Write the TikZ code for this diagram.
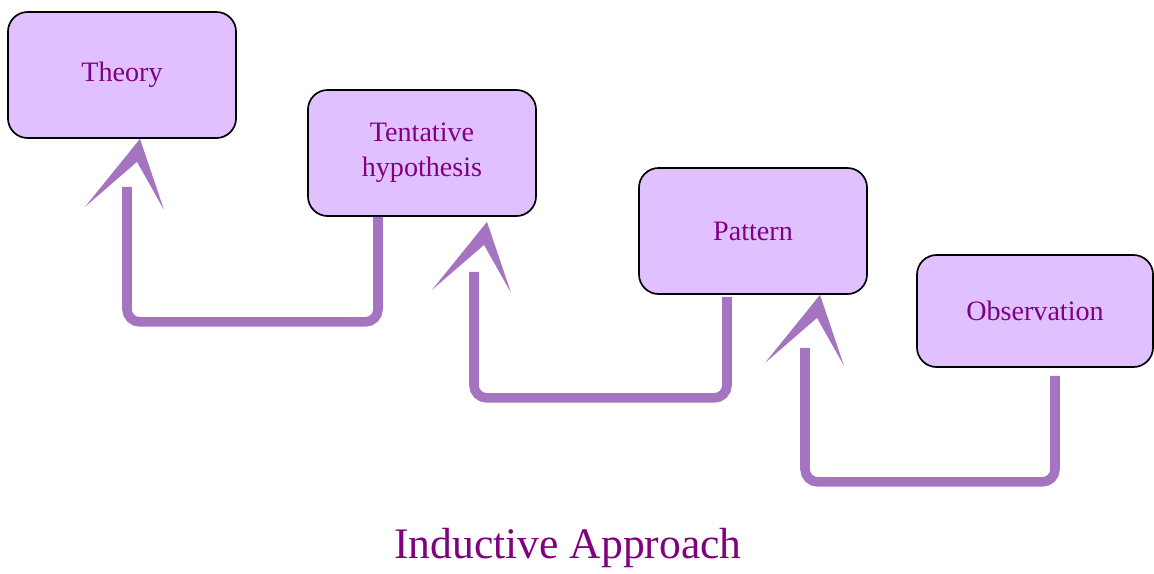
\documentclass[tikz,border=0pt]{standalone}
\usepackage{fontspec}
\setmainfont{Liberation Serif}
\usetikzlibrary{calc}
\definecolor{boxfill}{RGB}{224,192,255}
\definecolor{textcol}{RGB}{128,0,128}
\definecolor{arrowcol}{RGB}{164,116,192}
\tikzset{box/.style={rectangle, rounded corners=14pt, draw=black, line width=1.2pt, fill=boxfill,
      text=textcol, font=\fontsize{20}{21}\selectfont, align=center,
      minimum width=5.7cm, minimum height=3.15cm, inner sep=0pt}}
\tikzset{shaft/.style={draw=arrowcol, line width=6.8pt, rounded corners=9pt}}
\tikzset{chevron/.pic={\fill[arrowcol] (0,0) -- (24,71) -- (-3,23) -- (-55,68) -- cycle;}}

\begin{document}
\begin{tikzpicture}[x=0.025cm,y=-0.025cm]
		\useasboundingbox (0,0) rectangle (1154,573);
		\node[box] (theory) at (122,75) {Theory};
		\node[box] (hyp) at (422,153) {Tentative\\[4pt]hypothesis};
		\node[box] (pattern) at (753,231) {Pattern};
		\node[box, minimum width=5.9cm, minimum height=2.8cm] (obs) at (1035,311) {Observation};
		\draw[shaft] ($(hyp.south)+(-44,0)$) -- ++(0,105) -- ++(-251,0) -- ++(0,-135);
		\pic at ($(theory.south)+(18,0)$) {chevron};
		\draw[shaft] ($(pattern.south)+(-26,2)$) -- ++(0,101) -- ++(-253,0) -- ++(0,-126);
		\pic at ($(hyp.south)+(65,5)$) {chevron};
		\draw[shaft] ($(obs.south)+(20,8)$) -- ++(0,106) -- ++(-250,0) -- ++(0,-134);
		\pic at ($(pattern.south)+(67,0)$) {chevron};
		\node[text=textcol, font=\fontsize{31}{33}\selectfont] (title) at (568,548) {Inductive Approach};
\end{tikzpicture}
\end{document}
